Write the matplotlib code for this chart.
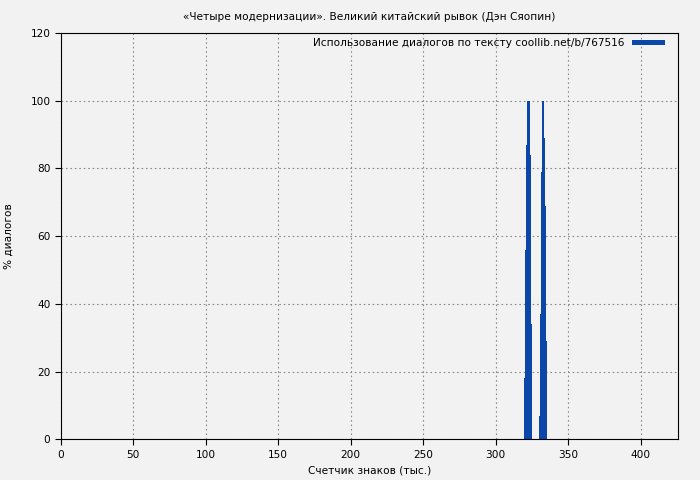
import matplotlib
matplotlib.use("Agg")
import matplotlib.pyplot as plt

# bar positions (thousands of chars) and % of dialogue
x1 = [319.5, 320.2, 320.9, 321.6, 322.3, 323.0, 323.7, 324.4]
y1 = [18, 56, 87, 100, 100, 100, 84, 34]
x2 = [329.9, 330.6, 331.3, 332.0, 332.7, 333.4, 334.1, 334.8]
y2 = [7, 37, 79, 100, 100, 89, 69, 29]

bg = "#f2f2f2"
color = "#0a47a9"
fs = 7.6

fig = plt.figure(figsize=(7, 4.8), dpi=100, facecolor=bg)
ax = fig.add_axes([0.087, 0.085, 0.882, 0.846], facecolor=bg)

ax.bar(x1 + x2, y1 + y2, width=0.7, align="edge", color=color,
       label="Использование диалогов по тексту coollib.net/b/767516")

ax.set_xlim(0, 426)
ax.set_ylim(0, 120)
ax.set_xticks(range(0, 401, 50))
ax.set_yticks(range(0, 121, 20))
ax.grid(True, linestyle=(0, (1.5, 2.5)), color="#8a8a8a", linewidth=0.8)
ax.set_axisbelow(True)
ax.tick_params(labelsize=fs, length=4, direction="out")

ax.set_title("«Четыре модернизации». Великий китайский рывок (Дэн Сяопин)",
             fontsize=fs, pad=9.5)
ax.set_xlabel("Счетчик знаков (тыс.)", fontsize=fs)
ax.set_ylabel("% диалогов", fontsize=fs, labelpad=12)

ax.legend(loc="upper right", bbox_to_anchor=(0.99, 1.005), frameon=False,
          fontsize=fs, markerfirst=False, handlelength=3.1,
          handleheight=0.4, handletextpad=0.7, borderaxespad=0.3)

fig.savefig("out.png", dpi=100, facecolor=bg)
